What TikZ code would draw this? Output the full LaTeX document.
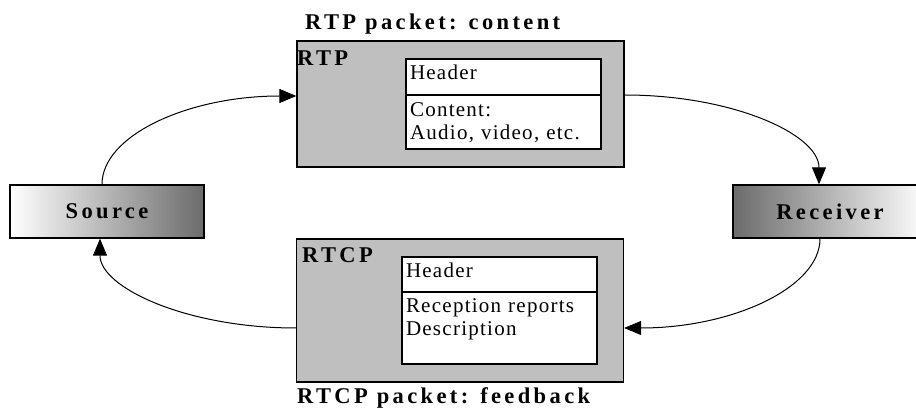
\documentclass[tikz,border=0pt]{standalone}
\usepackage{fontspec}
\setmainfont{Liberation Serif}
\newfontfamily\cellfont{Liberation Serif}[LetterSpace=6]
\newfontfamily\headfont{Liberation Serif}[LetterSpace=15]
\usetikzlibrary{arrows.meta,positioning}
\begin{document}
\begin{tikzpicture}[x=1pt,y=1pt,
  >={Triangle[length=17pt,width=14pt]},
  head/.style={font=\headfont\bfseries\fontsize{22.5}{24}\selectfont, inner sep=0pt},
  packet/.style={draw, line width=1.3pt, fill=black!25, minimum width=327pt},
  cell/.style={draw, line width=1.3pt, fill=white, outer sep=0pt, align=left, text width=187pt, inner xsep=4pt, inner ysep=0pt, font=\cellfont\fontsize{21}{23}\selectfont},
  endbox/.style={draw, line width=1.3pt, minimum width=194pt, minimum height=53pt, font=\headfont\bfseries\fontsize{22.5}{24}\selectfont}]
\useasboundingbox (0,0) rectangle (916,412);
\node[endbox, left color=white, right color=black!58] (src) at (107,200.5) {Source};
\node[endbox, left color=black!58, right color=white] (rcv) at (830,200.5) {Receiver};
\node[packet, minimum height=126pt] (rtp) at (460.5,308) {};
\node[packet, minimum height=143pt] (rtcp) at (460,101.5) {};
\node[cell, anchor=north west, minimum height=36pt, text height=13.5pt, text depth=7.5pt] (rtphead) at (406,353) {Header};
\node[cell, below=0pt of rtphead, minimum height=54pt, text height=13.5pt, text depth=23.5pt] (rtpbody) {Content:\\Audio, video, etc.};
\node[cell, anchor=north west, minimum height=35pt, text height=13.5pt, text depth=6.5pt] (rtcphead) at (402,155) {Header};
\node[cell, below=0pt of rtcphead, minimum height=72pt, text height=13.5pt, text depth=43.5pt] (rtcpbody) {Reception reports\\Description};
\node[head, anchor=base west] (rtpname) at (297,346) {RTP};
\node[head, anchor=base west] (rtcpname) at (302,149) {RTCP};
\node[head, anchor=base west] (rtptitle) at (305,382) {RTP packet: content};
\node[head, anchor=base west] (rtcptitle) at (297,8) {RTCP packet: feedback};
\draw[->, line width=1pt] ([xshift=-5pt]src.north) .. controls +(0,49) and +(-108,0) .. ([yshift=8pt]rtp.west);
\draw[->, line width=1pt] ([yshift=9pt]rtp.east) .. controls +(108,0) and +(0,50) .. ([xshift=-11pt]rcv.north);
\draw[->, line width=1pt] ([xshift=-10pt]rcv.south) .. controls +(0,-49) and +(108,0) .. ([yshift=-17.5pt]rtcp.east);
\draw[->, line width=1pt] ([yshift=-17.5pt]rtcp.west) .. controls +(-109,0) and +(0,-49) .. ([xshift=-7pt]src.south);
\end{tikzpicture}
\end{document}
